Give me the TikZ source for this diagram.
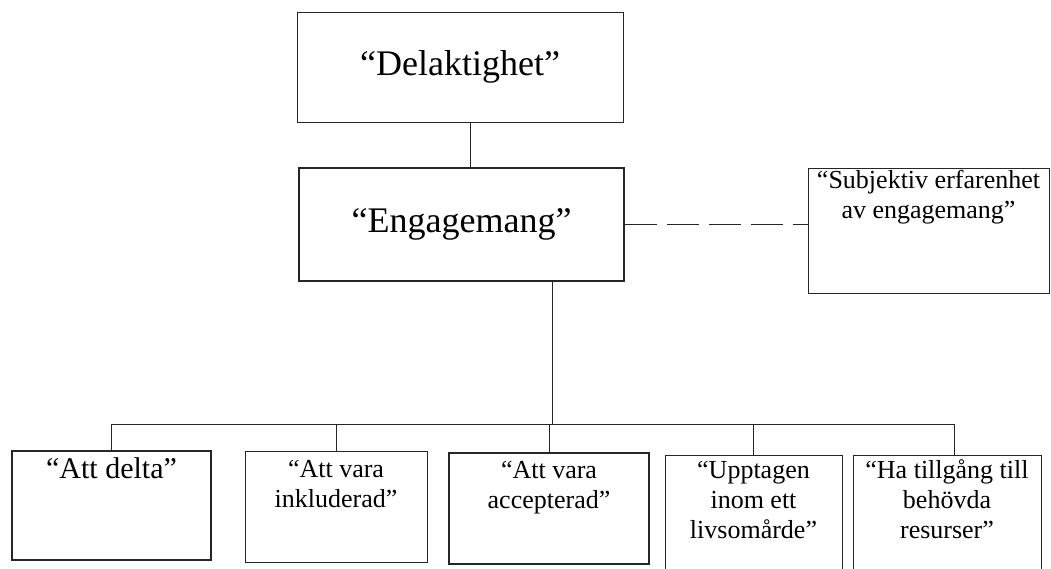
\documentclass[tikz,border=0pt]{standalone}
\usepackage{fontspec}
\setmainfont{Liberation Serif}
\usetikzlibrary{positioning}

\begin{document}
\begin{tikzpicture}[x=1pt, y=-1pt,
    box/.style={draw=black!85, line width=1pt, inner sep=0pt, align=center},
    heavy/.style={line width=1.8pt},
    big/.style={font=\fontsize{36}{40}\selectfont},
    small/.style={font=\fontsize{26}{30}\selectfont},
    conn/.style={draw=black!85, line width=1pt}
]
\useasboundingbox (0,0) rectangle (1051,568);
\node[box, big, minimum width=326pt, minimum height=110pt] (del) at (460,67) {“Delaktighet”};
\node[box, big, heavy, minimum width=325pt, minimum height=113pt] (eng) at (461.5,224.5) {“Engagemang”};
\node[box, small, anchor=north, minimum width=241pt, text height=50pt, text depth=75pt] (subj) at (928.5,168) {“Subjektiv erfarenhet\\av engagemang”};

\node[box, heavy, anchor=north, minimum width=199pt, text height=28pt, text depth=81pt, font=\fontsize{30}{34}\selectfont] (delta) at (111.5,450) {“Att delta”};
\node[box, small, anchor=north, minimum width=182pt, text height=56pt, text depth=55pt] (inkl) at (336,451) {“Att vara\\inkluderad”};
\node[box, small, heavy, anchor=north, minimum width=200pt, text height=56pt, text depth=55pt] (acc) at (549,452) {“Att vara\\accepterad”};
\node[box, small, anchor=north, minimum width=177pt, text height=83pt, text depth=42pt] (uppt) at (753.5,455) {“Upptagen\\inom ett\\livsomårde”};
\node[box, small, anchor=north, minimum width=188pt, text height=83pt, text depth=42pt] (res) at (947,455) {“Ha tillgång till\\behövda\\resurser”};

\draw[conn] ([xshift=10pt]del.south) -- ([xshift=10pt]del.south |- eng.north);
\draw[conn, dash pattern=on 32pt off 10pt] (eng.east) -- (eng.east -| subj.west);
\coordinate (bus) at (552,424);
\draw[conn] (eng.south -| bus) -- (bus);
\draw[conn] (bus -| delta.north) -- ([xshift=7pt]bus -| res.north);
\foreach \n in {delta,inkl,acc,uppt}
    \draw[conn] (bus -| \n.north) -- (\n.north);
\draw[conn] ([xshift=7pt]bus -| res.north) -- ([xshift=7pt]res.north);
\end{tikzpicture}
\end{document}
